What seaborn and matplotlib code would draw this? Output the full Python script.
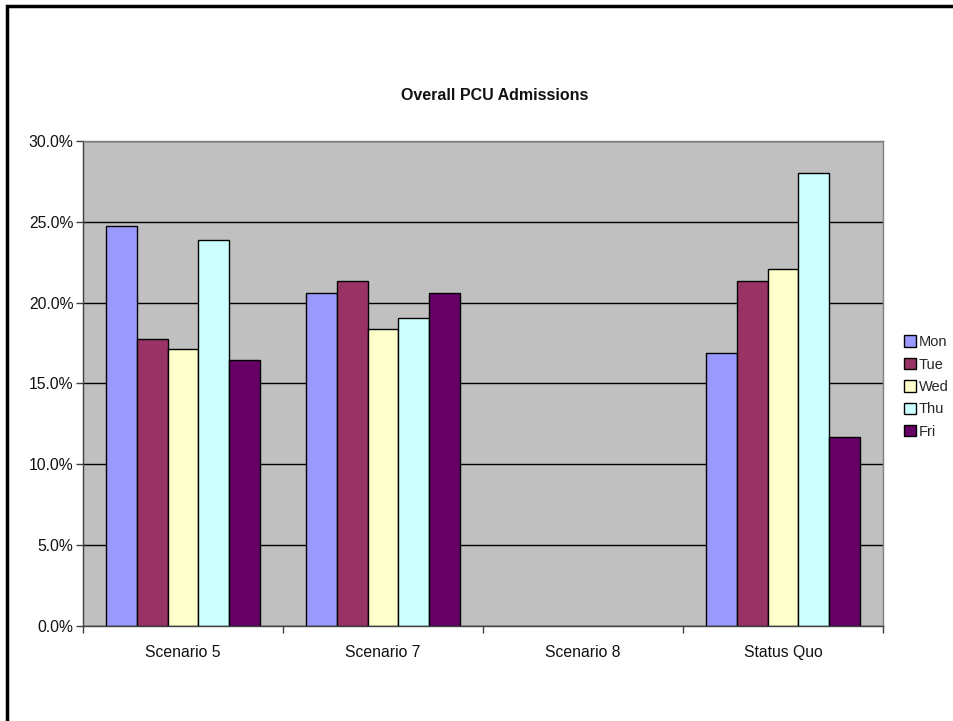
import numpy as np
import pandas as pd
import matplotlib
matplotlib.use("Agg")
import matplotlib.pyplot as plt
import seaborn as sns
from matplotlib.patches import Rectangle
from matplotlib.ticker import FuncFormatter, MultipleLocator

categories = ["Scenario 5", "Scenario 7", "Scenario 8", "Status Quo"]
days = ["Mon", "Tue", "Wed", "Thu", "Fri"]
mon = [0.2477, 0.2060, np.nan, 0.1688]
tue = [0.1775, 0.2134, np.nan, 0.2134]
wed = [0.1715, 0.1835, np.nan, 0.2208]
thu = [0.2387, 0.1907, np.nan, 0.2800]
fri = [0.1645, 0.2060, np.nan, 0.1171]
colors = ["#9999FF", "#993366", "#FFFFCC", "#CCFFFF", "#660066"]

rows = []
for d, vals in zip(days, [mon, tue, wed, thu, fri]):
    for c, v in zip(categories, vals):
        rows.append({"Scenario": c, "Day": d, "Value": v})
df = pd.DataFrame(rows)

sns.set_theme(style="white")
plt.rcParams["font.family"] = ["Liberation Sans", "DejaVu Sans"]

fig = plt.figure(figsize=(9.54, 7.21), dpi=100)
ax = fig.add_axes([83/954, 1-626/721, 800/954, 485/721])
ax.set_facecolor("#C0C0C0")

sns.barplot(data=df, x="Scenario", y="Value", hue="Day", order=categories,
            hue_order=days, palette=colors, width=0.767, edgecolor="black",
            linewidth=1.0, saturation=1, ax=ax, legend=True, errorbar=None)

ax.set_xlim(-0.5, 3.5)
ax.set_ylim(0, 0.30)
ax.yaxis.set_major_locator(MultipleLocator(0.05))
ax.yaxis.set_major_formatter(FuncFormatter(lambda v, p: f"{v*100:.1f}%"))
ax.grid(axis="y", color="black", linewidth=1.0)
ax.set_axisbelow(True)
ax.set_xlabel("")
ax.set_ylabel("")
for s in ax.spines.values():
    s.set_color("#808080")
    s.set_linewidth(1.0)
ax.spines["left"].set_color("#404040")
ax.spines["bottom"].set_color("#404040")

ax.tick_params(axis="y", direction="out", length=5, width=1, color="#404040",
               labelsize=11.3, pad=2, left=True, labelcolor="#111111")
ax.set_xticks(range(len(categories)))
ax.set_xticklabels(categories)
ax.tick_params(axis="x", which="major", length=0, labelsize=11.3, pad=14,
               labelcolor="#111111")
ax.set_xticks(np.arange(-0.5, 3.6, 1.0), minor=True)
ax.tick_params(axis="x", which="minor", direction="out", length=5, width=1,
               color="#404040", bottom=True)

handles, labels = ax.get_legend_handles_labels()
ax.get_legend().remove()
fig.legend(handles, labels, loc="center left",
           bbox_to_anchor=(904/954, 1-387/721), frameon=False,
           fontsize=10.5, handlelength=0.8, handleheight=0.8,
           handletextpad=0.2, labelspacing=0.58, borderaxespad=0,
           borderpad=0)

fig.text(495/954, 1-95/721, "Overall PCU Admissions", ha="center",
         va="center", fontsize=11.5, fontweight="bold", color="#111111")

fig.patches.append(Rectangle((7.5/954, -0.1), 1.2, 1-5.5/721+0.1,
                             transform=fig.transFigure, fill=False,
                             edgecolor="black", linewidth=2.5, zorder=10))

fig.savefig("out.png", dpi=100, facecolor="white")
